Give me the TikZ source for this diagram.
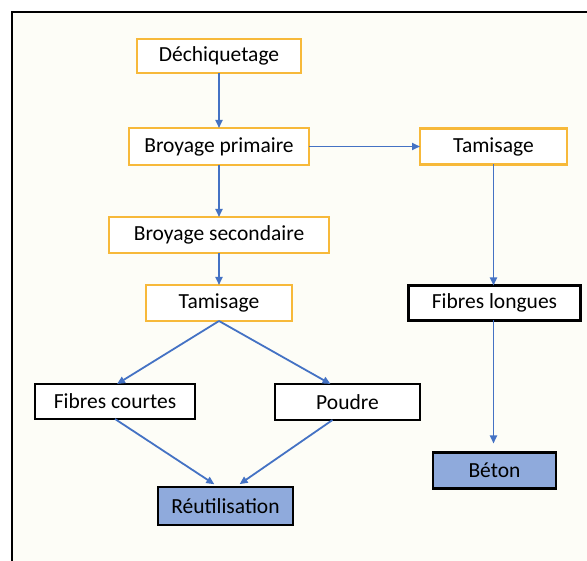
\documentclass[tikz,border=0pt]{standalone}
\usepackage{fontspec}
\setmainfont{Carlito}
\usepackage{tikz}
\usetikzlibrary{arrows.meta,positioning,calc}
\definecolor{orangebord}{RGB}{247,185,58}
\definecolor{bleuflux}{RGB}{68,114,196}
\definecolor{bleufond}{RGB}{143,170,220}
\definecolor{creme}{RGB}{253,253,247}
\tikzset{
	etape/.style={
		rectangle,
		line width=2.2pt,
		draw=orangebord,
		fill=white,
		inner sep=0pt,
		outer sep=0pt,
		font=\fontsize{21.5}{24}\selectfont,
	},
	produit/.style={
		rectangle,
		line width=2.2pt,
		draw=black,
		fill=white,
		inner sep=0pt,
		outer sep=0pt,
		font=\fontsize{21.5}{24}\selectfont,
	},
	final/.style={
		rectangle,
		line width=2.2pt,
		draw=black,
		fill=bleufond,
		inner sep=0pt,
		outer sep=0pt,
		font=\fontsize{21.5}{24}\selectfont,
	},
	fleche/.style={
		->,
		line width=1.8pt,
		draw=bleuflux,
	},
}

\begin{document}
\begin{tikzpicture}[x=1pt, y=-1pt, >={Triangle[length=8pt,width=7pt]}]
				% frame
				\useasboundingbox (0,0) rectangle (587,561);
				\clip (0,0) rectangle (587,561);
				\fill[white] (0,0) rectangle (587,561);
				\draw[line width=2.4pt, fill=creme] (12,12) rectangle (600,580);
				
				% nodes
				\node [etape, minimum width=164pt, minimum height=34pt] (dech) at (219,56) {Déchiquetage};
				\node [etape, minimum width=180pt, minimum height=37pt] (bp) [below=55pt of dech] {Broyage primaire};
				\node [etape, minimum width=147pt, minimum height=36pt] (tamR) [right=111pt of bp] {Tamisage};
				\node [etape, minimum width=220pt, minimum height=36pt] (bs) [below=52pt of bp] {Broyage secondaire};
				\node [etape, minimum width=146pt, minimum height=36pt] (tamL) [below=32pt of bs] {Tamisage};
				\node [produit, minimum width=172pt, minimum height=35pt] (fl) [below=121pt of tamR, xshift=1pt] {Fibres longues};
				\node [final, minimum width=123pt, minimum height=36pt] (beton) [below=132pt of fl] {Béton};
				\node [produit, minimum width=160pt, minimum height=35pt] (fc) [below=63pt of tamL, xshift=-104pt] {Fibres courtes};
				\node [produit, minimum width=145pt, minimum height=36pt] (poudre) [below=63pt of tamL, xshift=128.5pt] {Poudre};
				\node [final, minimum width=135pt, minimum height=38pt] (reut) [below=166pt of tamL, xshift=6.5pt] {Réutilisation};
				
				% arcs
				\draw[fleche] (dech) -- (bp);
				\draw[fleche] (bp) -- (tamR);
				\draw[fleche] (bp) -- (bs);
				\draw[fleche] (bs) -- (tamL);
				\draw[fleche] (tamL.south) -- ([xshift=2pt]fc.north);
				\draw[fleche] (tamL.south) -- ([xshift=-17pt]poudre.north);
				\draw[fleche] (tamR.south) -- (tamR.south |- fl.north);
				\draw[fleche, shorten >=9pt] (tamR.south |- fl.south) -- (tamR.south |- beton.north);
				\draw[fleche, shorten >=5pt] (fc.south) -- ([xshift=-7pt]reut.north);
				\draw[fleche, shorten >=5pt] ([xshift=-15pt]poudre.south) -- ([xshift=10pt]reut.north);
\end{tikzpicture}
\end{document}
